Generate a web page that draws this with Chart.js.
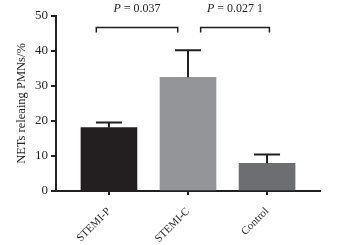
<!DOCTYPE html>
<html>
<head>
<meta charset="utf-8">
<script src="https://cdn.jsdelivr.net/npm/chart.js@4.4.1/dist/chart.umd.min.js"></script>
<style>
  html, body { margin: 0; padding: 0; background: #fff; }
  #wrap { width: 351px; height: 245px; position: relative; }
</style>
</head>
<body>
<div id="wrap"><canvas id="c"></canvas></div>
<script>
// groups, mean % and top of the (upper-only) error bar
const groups = ["STEMI-P", "STEMI-C", "Control"];
const means = [18.1, 32.5, 7.9];
const errTops = [19.6, 40.2, 10.4];
const barColors = ["#231f20", "#939598", "#6d6e71"];
const yTicks = [0, 10, 20, 30, 40, 50];

// significance brackets: [from x, to x] in category units, bracket height and leg bottom
const bracketSpans = [[-0.16, 0.87], [1.16, 2.03]];
const bracketTop = 46.7;
const bracketLeg = 45.3;
const pLabels = ["0.037", "0.027 1"];
const pLabelY = 52.1;

const INK = "#231f20";
const SERIF = "'Liberation Serif', 'DejaVu Serif', serif";

const bracketSets = bracketSpans.map(([a, b]) => ({
  type: "line",
  data: [{ x: a, y: bracketLeg }, { x: a, y: bracketTop }, { x: b, y: bracketTop }, { x: b, y: bracketLeg }],
  borderColor: INK, borderWidth: 1.5, pointRadius: 0, fill: false, tension: 0,
}));

// upper error whiskers + P value labels, placed via the chart scales
const extras = {
  id: "extras",
  afterDatasetsDraw(chart) {
    const { ctx, scales: { x, y } } = chart;
    ctx.save();
    ctx.strokeStyle = INK;
    ctx.lineWidth = 2;
    groups.forEach((g, i) => {
      const px = x.getPixelForValue(i);
      const y0 = y.getPixelForValue(means[i]);
      const y1 = y.getPixelForValue(errTops[i]);
      ctx.beginPath();
      ctx.moveTo(px, y0); ctx.lineTo(px, y1);
      ctx.moveTo(px - 13, y1); ctx.lineTo(px + 13, y1);
      ctx.stroke();
    });
    ctx.fillStyle = INK;
    ctx.textBaseline = "middle";
    bracketSpans.forEach(([a, b], i) => {
      const cx = x.getPixelForValue((a + b) / 2);
      const cy = y.getPixelForValue(pLabelY);
      ctx.font = "italic 12px " + SERIF;
      const pW = ctx.measureText("P").width;
      ctx.font = "12px " + SERIF;
      const rest = " = " + pLabels[i];
      const rW = ctx.measureText(rest).width;
      const sx = cx - (pW + rW) / 2;
      ctx.textAlign = "left";
      ctx.font = "italic 12px " + SERIF;
      ctx.fillText("P", sx, cy);
      ctx.font = "12px " + SERIF;
      ctx.fillText(rest, sx + pW, cy);
    });
    ctx.restore();
  },
};

new Chart(document.getElementById("c"), {
  type: "bar",
  data: {
    datasets: [
      {
        type: "bar",
        data: means.map((v, i) => ({ x: i, y: v })),
        backgroundColor: barColors,
        barThickness: 56,
        borderWidth: 0,
      },
      ...bracketSets,
    ],
  },
  options: {
    responsive: true, maintainAspectRatio: false, animation: false,
    layout: { padding: { top: 16, right: 31, left: 0, bottom: 0 } },
    plugins: { legend: { display: false }, tooltip: { enabled: false } },
    scales: {
      x: {
        type: "linear", min: -0.67, max: 2.67, offset: false,
        afterBuildTicks: s => { s.ticks = groups.map((g, i) => ({ value: i })); },
        afterFit: s => { s.height = 54; },
        border: { color: INK, width: 2 },
        grid: { offset: false, drawOnChartArea: false, color: INK, lineWidth: 2, tickLength: 4 },
        ticks: {
          autoSkip: false, maxRotation: 45, minRotation: 45, padding: 10,
          color: INK, font: { family: SERIF, size: 11 },
          callback: v => groups[v] ?? "",
        },
      },
      y: {
        min: 0, max: 50,
        afterBuildTicks: s => { s.ticks = yTicks.map(v => ({ value: v })); },
        afterFit: s => { s.width = 56; },
        border: { color: INK, width: 2 },
        grid: { drawOnChartArea: false, color: INK, lineWidth: 2, tickLength: 5 },
        ticks: { color: INK, padding: 3, font: { family: SERIF, size: 13 } },
        title: {
          display: true, text: "NETs releaing PMNs/%", color: INK,
          font: { family: SERIF, size: 12.5 }, padding: { top: 14, bottom: 0 },
        },
      },
    },
  },
  plugins: [extras],
});
</script>
</body>
</html>
